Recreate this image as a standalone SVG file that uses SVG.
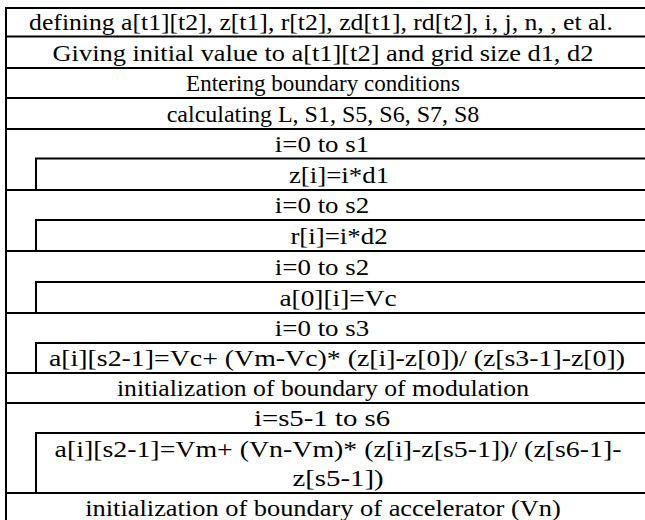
<svg xmlns="http://www.w3.org/2000/svg" width="645" height="520" viewBox="0 0 645 520">
<style>
.ln{stroke:#000;stroke-width:2;fill:none}
.t{font-family:"Liberation Serif","Times New Roman",serif;font-size:24px;fill:#000;text-anchor:middle}
</style>
<rect width="645" height="520" fill="#fff"/>
<g id="connectors" class="ln">
<line x1="6" y1="8" x2="6" y2="520"/>
<line x1="5" y1="8" x2="645" y2="8"/>
<line x1="6" y1="36.5" x2="645" y2="36.5"/>
<line x1="6" y1="68" x2="645" y2="68"/>
<line x1="6" y1="98" x2="645" y2="98"/>
<line x1="6" y1="129" x2="645" y2="129"/>
<line x1="6" y1="190" x2="645" y2="190"/>
<line x1="6" y1="251" x2="645" y2="251"/>
<line x1="6" y1="313" x2="645" y2="313"/>
<line x1="6" y1="373" x2="645" y2="373"/>
<line x1="6" y1="403" x2="645" y2="403"/>
<line x1="6" y1="493" x2="645" y2="493"/>
<polyline points="36,190 36,158.5 645,158.5"/>
<polyline points="36,251 36,220 645,220"/>
<polyline points="36,313 36,282 645,282"/>
<polyline points="36,373 36,343 645,343"/>
<polyline points="36,493 36,433 645,433"/>
</g>
<g id="n1"><text class="t" transform="matrix(1.07 0 0 1 321 30)">defining a[t1][t2], z[t1], r[t2], zd[t1], rd[t2], i, j, n, , et al.</text></g>
<g id="n2"><text class="t" transform="matrix(1.1 0 0 1 323 61)">Giving initial value to a[t1][t2] and grid size d1, d2</text></g>
<g id="n3"><text class="t" transform="matrix(0.96 0 0 1 323 91)">Entering boundary conditions</text></g>
<g id="n4"><text class="t" transform="matrix(1.0 0 0 1 323 122)">calculating L, S1, S5, S6, S7, S8</text></g>
<g id="loop1"><text class="t" transform="matrix(1.12 0 0 1 322 152)">i=0 to s1</text></g>
<g id="body1"><text class="t" transform="matrix(1.12 0 0 1 339 183)">z[i]=i*d1</text></g>
<g id="loop2"><text class="t" transform="matrix(1.12 0 0 1 322 213)">i=0 to s2</text></g>
<g id="body2"><text class="t" transform="matrix(1.12 0 0 1 339 244)">r[i]=i*d2</text></g>
<g id="loop3"><text class="t" transform="matrix(1.12 0 0 1 322 275)">i=0 to s2</text></g>
<g id="body3"><text class="t" transform="matrix(1.14 0 0 1 338 306)">a[0][i]=Vc</text></g>
<g id="loop4"><text class="t" transform="matrix(1.12 0 0 1 322 336)">i=0 to s3</text></g>
<g id="body4"><text class="t" transform="matrix(1.16 0 0 1 337 366)">a[i][s2-1]=Vc+ (Vm-Vc)* (z[i]-z[0])/ (z[s3-1]-z[0])</text></g>
<g id="n5"><text class="t" transform="matrix(1.07 0 0 1 323 396)">initialization of boundary of modulation</text></g>
<g id="loop5"><text class="t" transform="matrix(1.2 0 0 1 322 426)">i=s5-1 to s6</text></g>
<g id="body5"><text class="t" transform="matrix(1.16 0 0 1 338 457)">a[i][s2-1]=Vm+ (Vn-Vm)* (z[i]-z[s5-1])/ (z[s6-1]-</text><text class="t" transform="matrix(1.2 0 0 1 338 486)">z[s5-1])</text></g>
<g id="n6"><text class="t" transform="matrix(1.1 0 0 1 323 516)">initialization of boundary of accelerator (Vn)</text></g>
</svg>
